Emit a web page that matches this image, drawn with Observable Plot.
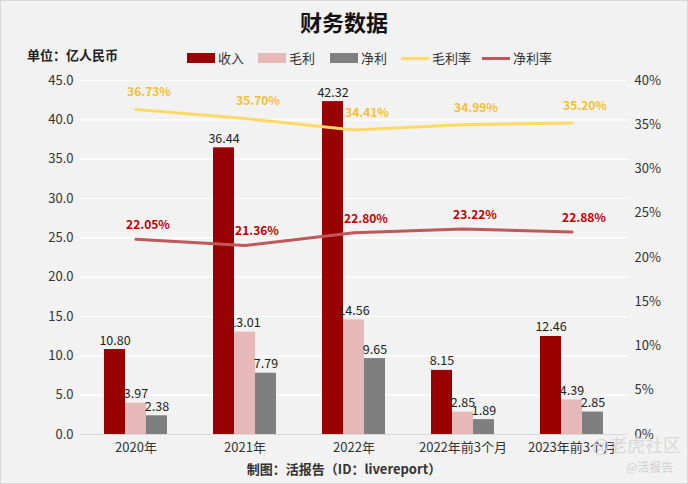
<!DOCTYPE html>
<html>
<head>
<meta charset="utf-8">
<script src="https://cdn.jsdelivr.net/npm/d3@7"></script>
<script src="https://cdn.jsdelivr.net/npm/@observablehq/plot@0.6"></script>
<style>
  body { margin: 0; font-family: "Noto Sans CJK SC", "Noto Sans", sans-serif; }
  #wrap { position: relative; width: 688px; height: 484px; background: #f2f2f2; overflow: hidden; }
  #wrap svg { position: absolute; left: 0; top: 0; }
  .abs { position: absolute; white-space: nowrap; }
  #title { top: 5px; left: 0; width: 688px; text-align: center; font-size: 22px; font-weight: bold; color: #111; }
  #unit { left: 27px; top: 45px; font-size: 13px; font-weight: bold; color: #222; }
  .leg { top: 49px; font-size: 13px; color: #333; display: flex; align-items: center; line-height: 18px; }
  .sw { display: inline-block; width: 28px; height: 10px; margin-right: 3px; }
  .ln { display: inline-block; width: 28px; height: 3px; margin-right: 3px; }
  #caption { top: 459px; left: 0; width: 688px; text-align: center; font-size: 13px; font-weight: bold; color: #333; }
  #wm1 { left: 592px; top: 431px; font-size: 18px; color: #d8d8d8; }
  #wm2 { left: 626px; top: 458px; font-size: 12px; color: #d0d0d0; }
  #border { left: 0; top: 0; width: 686px; height: 482px; border: 1px solid #d9d9d9; pointer-events: none; }
</style>
</head>
<body>
<div id="wrap">
  <div id="title" class="abs">财务数据</div>
  <div id="unit" class="abs">单位：亿人民币</div>
  <div id="legend"></div>
  <div id="caption" class="abs">制图：活报告（ID：livereport）</div>
  <div id="wm1" class="abs">@老虎社区</div>
  <div id="wm2" class="abs">@活报告</div>
  <div id="border" class="abs"></div>
</div>
<script>
const categories = ["2020年", "2021年", "2022年", "2022年前3个月", "2023年前3个月"];
const revenue = [10.80, 36.44, 42.32, 8.15, 12.46];
const grossProfit = [3.97, 13.01, 14.56, 2.85, 4.39];
const netProfit = [2.38, 7.79, 9.65, 1.89, 2.85];
const grossMargin = [36.73, 35.70, 34.41, 34.99, 35.20];
const netMargin = [22.05, 21.36, 22.80, 23.22, 22.88];
const leftTicks = [0, 5, 10, 15, 20, 25, 30, 35, 40, 45];
const rightTicks = [0, 5, 10, 15, 20, 25, 30, 35, 40];

const colors = {rev: "#990000", gp: "#e6b8b7", np: "#7f7f7f", gm: "#ffd966", nm: "#c0585a", gmText: "#f5bf32", nmText: "#c00000"};

const yMax = 45, pMax = 40;
const toY = p => p * yMax / pMax;

const data = categories.map((c, i) => ({
  cat: c, rev: revenue[i], gp: grossProfit[i], np: netProfit[i],
  gm: grossMargin[i], nm: netMargin[i]
}));

const fmt2 = d3.format(".2f");

const chart = Plot.plot({
  width: 688,
  height: 484,
  marginLeft: 80,
  marginRight: 61,
  marginTop: 80,
  marginBottom: 50,
  style: {background: "transparent", fontFamily: "'Noto Sans CJK SC', sans-serif", fontSize: "13px", color: "#333"},
  x: {domain: categories, paddingInner: 0.808, paddingOuter: 0.404, label: null},
  y: {domain: [0, yMax], label: null},
  marks: [
    Plot.ruleY(leftTicks.filter(d => d > 0), {stroke: "#ffffff", strokeWidth: 1.2}),
    Plot.ruleY([0], {stroke: "#d9d9d9", strokeWidth: 1}),
    Plot.axisY({ticks: leftTicks, tickSize: 0, tickPadding: 7, tickFormat: d3.format(".1f"), label: null, fill: "#333"}),
    Plot.axisY({anchor: "right", ticks: rightTicks.map(toY), tickSize: 0, tickPadding: 7,
      tickFormat: d => Math.round(d * pMax / yMax) + "%", label: null, fill: "#333"}),
    Plot.axisX({tickSize: 0, tickPadding: 8, label: null, fill: "#333"}),
    Plot.barY(data, {x: "cat", y: "rev", fill: colors.rev, dx: -21}),
    Plot.barY(data, {x: "cat", y: "gp", fill: colors.gp}),
    Plot.barY(data, {x: "cat", y: "np", fill: colors.np, dx: 21}),
    Plot.text(data, {x: "cat", y: "rev", text: d => fmt2(d.rev), dx: -21, dy: -9, fill: "#222", fontSize: 12.5}),
    Plot.text(data, {x: "cat", y: "gp", text: d => fmt2(d.gp), dy: -9, fill: "#222", fontSize: 12.5}),
    Plot.text(data, {x: "cat", y: "np", text: d => fmt2(d.np), dx: 21, dy: -9, fill: "#222", fontSize: 12.5}),
    Plot.line(data, {x: "cat", y: d => toY(d.gm), stroke: colors.gm, strokeWidth: 3}),
    Plot.line(data, {x: "cat", y: d => toY(d.nm), stroke: colors.nm, strokeWidth: 3}),
    Plot.text(data, {x: "cat", y: d => toY(d.gm), text: d => fmt2(d.gm) + "%", dx: 13, dy: -17, fill: colors.gmText, fontWeight: "bold", fontSize: 12}),
    Plot.text(data, {x: "cat", y: d => toY(d.nm), text: d => fmt2(d.nm) + "%", dx: 12, dy: -14, fill: colors.nmText, fontWeight: "bold", fontSize: 12})
  ]
});
document.getElementById("wrap").prepend(chart);

const legendItems = [
  {label: "收入", color: colors.rev, type: "sw", x: 187},
  {label: "毛利", color: colors.gp, type: "sw", x: 258},
  {label: "净利", color: colors.np, type: "sw", x: 330},
  {label: "毛利率", color: colors.gm, type: "ln", x: 401},
  {label: "净利率", color: colors.nm, type: "ln", x: 482}
];
const leg = document.getElementById("legend");
legendItems.forEach(it => {
  const d = document.createElement("div");
  d.className = "abs leg";
  d.style.left = it.x + "px";
  d.innerHTML = `<span class="${it.type}" style="background:${it.color}"></span>${it.label}`;
  leg.appendChild(d);
});
</script>
</body>
</html>
